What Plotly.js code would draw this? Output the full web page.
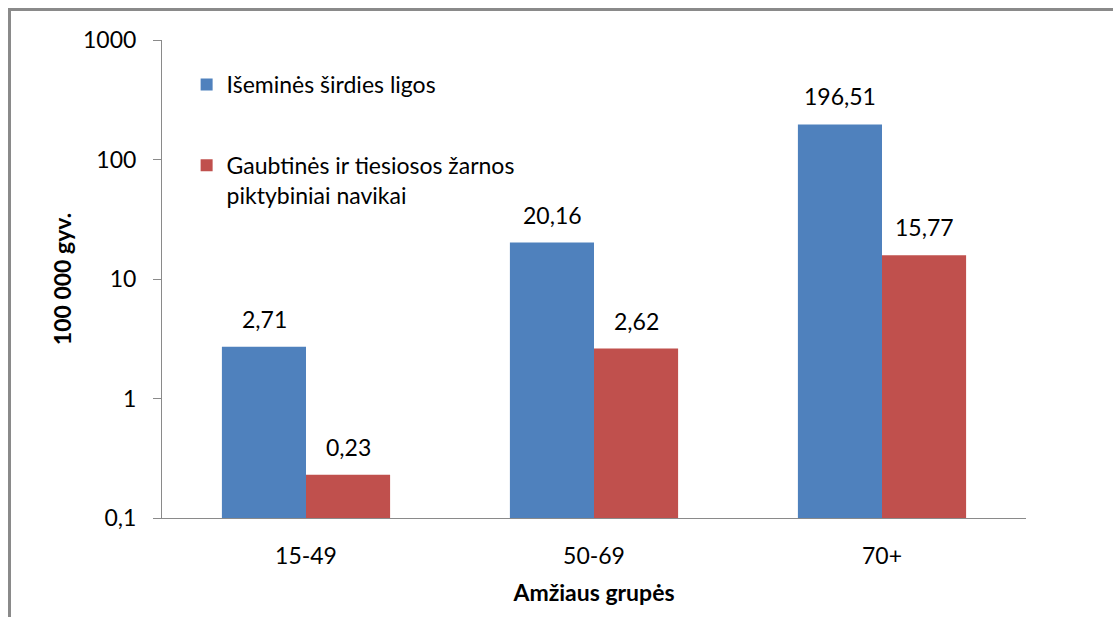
<!DOCTYPE html>
<html>
<head>
<meta charset="utf-8">
<script src="https://cdn.plot.ly/plotly-3.0.1.min.js"></script>
<style>
  html, body { margin: 0; padding: 0; background: #fff; }
  #wrap { position: relative; width: 1113px; height: 617px; overflow: hidden; }
  #chart { position: absolute; left: 0; top: 0; width: 1113px; height: 617px; }
  #frame { position: absolute; left: 8px; top: 8px; width: 1200px; height: 700px;
           border-top: 3px solid #8a8a8a; border-left: 3px solid #8a8a8a; pointer-events: none; }
</style>
</head>
<body>
<div id="wrap"><div id="chart"></div><div id="frame"></div></div>
<script>
const categories = ['15-49', '50-69', '70+'];
const seriesNames = ['Išeminės širdies ligos', 'Gaubtinės ir tiesiosos žarnos<br>piktybiniai navikai'];
const ischemic = [2.71, 20.16, 196.51];
const colorectal = [0.23, 2.62, 15.77];
const ischemicLabels = ['2,71', '20,16', '196,51'];
const colorectalLabels = ['0,23', '2,62', '15,77'];
const yTickVals = [0.1, 1, 10, 100, 1000];
const yTickText = ['0,1', '1', '10', '100', '1000'];

const FONT = 'Lato, "Open Sans", sans-serif';
const FS = 23;
const colors = ['#4F81BD', '#C0504D'];

const traces = [
  { type: 'bar', name: seriesNames[0], x: categories, y: ischemic, marker: { color: colors[0] },
    legendgroup: 'a', hoverinfo: 'x+y' },
  { type: 'bar', name: seriesNames[1], x: categories, y: colorectal, marker: { color: colors[1] },
    legendgroup: 'b', hoverinfo: 'x+y' }
];

const annotations = [];
const seriesVals = [ischemic, colorectal];
const seriesLabels = [ischemicLabels, colorectalLabels];
seriesVals.forEach((vals, s) => {
  vals.forEach((v, i) => {
    annotations.push({
      x: categories[i], y: Math.log10(v), xref: 'x', yref: 'y',
      text: seriesLabels[s][i], showarrow: false,
      xshift: s === 0 ? -42 : 42, yshift: 28, yanchor: 'middle',
      font: { family: FONT, size: FS, color: '#000' }
    });
  });
});

const layout = {
  width: 1113, height: 617,
  margin: { l: 162, r: 87, t: 40, b: 99 },
  paper_bgcolor: '#fff', plot_bgcolor: '#fff',
  barmode: 'group', bargap: 0.416, bargroupgap: 0,
  font: { family: FONT, size: FS, color: '#000' },
  showlegend: true,
  legend: {
    x: 0.0285, y: 0.952, xanchor: 'left', yanchor: 'top',
    bgcolor: 'rgba(0,0,0,0)', traceorder: 'grouped', tracegroupgap: 48,
    valign: 'top', font: { family: FONT, size: FS, color: '#000' }
  },
  xaxis: {
    type: 'category', showline: true, linecolor: '#8a8a8a', linewidth: 1,
    ticks: 'outside', ticklen: 17, tickcolor: 'rgba(0,0,0,0)',
    showgrid: false, zeroline: false,
    tickfont: { family: FONT, size: FS, color: '#000' },
    title: { text: 'Amžiaus grupės', font: { family: FONT, size: 23, color: '#000', weight: 'bold' }, standoff: 17 }
  },
  yaxis: {
    type: 'log', range: [-1, 3], showline: true, linecolor: '#8a8a8a', linewidth: 1,
    ticks: 'outside', ticklen: 8, tickcolor: '#8a8a8a',
    tickvals: yTickVals, ticktext: yTickText, ticklabelstandoff: 12,
    showgrid: false, zeroline: false,
    tickfont: { family: FONT, size: FS, color: '#000' },
    title: { text: '100 000 gyv.', font: { family: FONT, size: 23, color: '#000', weight: 'bold' }, standoff: 4 }
  },
  annotations: annotations
};

Plotly.newPlot('chart', traces, layout, { displayModeBar: false, staticPlot: true });
</script>
</body>
</html>
